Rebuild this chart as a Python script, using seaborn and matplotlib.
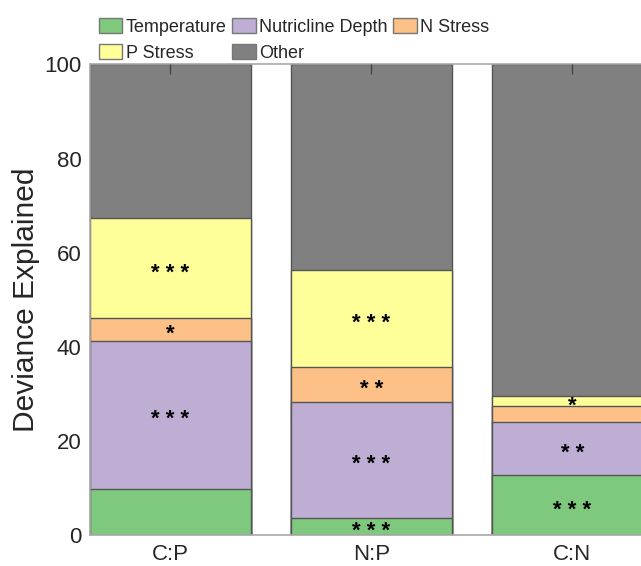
import numpy as np
import pandas as pd
import seaborn as sns
from matplotlib import pyplot as plt
from matplotlib import transforms
from matplotlib.patches import Patch

ratios = ["C:P", "N:P", "C:N"]
components = ["Temperature", "Nutricline Depth", "N Stress", "P Stress", "Other"]
temperature = [9.9, 3.8, 12.8]
nutricline = [31.4, 24.5, 11.3]
n_stress = [4.9, 7.4, 3.3]
p_stress = [21.1, 20.7, 2.1]
other = [32.7, 43.6, 70.5]
stars = [
    ["", "* * *", "* * *"],     # Temperature
    ["* * *", "* * *", "* *"],  # Nutricline Depth
    ["*", "* *", ""],           # N Stress
    ["* * *", "* * *", "*"],    # P Stress
    ["", "", ""],               # Other
]
colours = ["#7fc97f", "#beaed4", "#fdc086", "#ffff99", "#808080"]

sns.set_theme(style="white")
plt.rcParams["font.family"] = ["Liberation Sans", "DejaVu Sans"]

fig = plt.figure(figsize=(6.41, 5.66), dpi=100)
ax = fig.add_axes([0.1404, 0.0539, 0.878, 0.8325])

values = np.array([temperature, nutricline, n_stress, p_stress, other])
cum = np.cumsum(values, axis=0)
table = pd.DataFrame(cum.T, columns=components)
table["Ratio"] = ratios

# stacked bars: draw cumulative totals from the top down
for i in range(len(components) - 1, -1, -1):
    sns.barplot(data=table, x="Ratio", y=components[i], color=colours[i],
                saturation=1, width=0.8, edgecolor="#555555", linewidth=1.0, ax=ax)

star_trans = transforms.offset_copy(ax.transData, fig=fig, x=0, y=-7.5, units="points")
for i in range(len(components)):
    for j in range(len(ratios)):
        if stars[i][j]:
            mid = cum[i][j] - values[i][j] / 2
            ax.text(j, mid, stars[i][j], ha="center", va="baseline", fontsize=16,
                    fontweight="bold", color="#000000", transform=star_trans)

ax.set_xlim(-0.4, 2.4)
ax.set_ylim(0, 100)
ax.set_yticks([0, 20, 40, 60, 80, 100])
ax.set_xlabel("")
ax.set_ylabel("Deviance Explained", fontsize=21.5, color="#262626", labelpad=3)
ax.tick_params(axis="y", length=0, labelsize=16, labelcolor="#262626", pad=6)
ax.tick_params(axis="x", direction="in", length=7, width=1, color="#444444",
               top=True, labelsize=16, labelcolor="#262626", pad=6)
ax.set_axisbelow(False)
for s in ax.spines.values():
    s.set_color("#a8a8a8")
    s.set_linewidth(1.2)

handles = [Patch(facecolor=c, edgecolor="#777777", linewidth=1.0) for c in colours]
order = [0, 3, 1, 4, 2]
fig.legend([handles[k] for k in order], [components[k] for k in order],
           loc="upper left", bbox_to_anchor=(99 / 641, 1 - 18 / 566), ncol=3,
           frameon=False, fontsize=13, borderpad=0, borderaxespad=0,
           handlelength=1.3, handleheight=0.9, handletextpad=0.2,
           columnspacing=0.3, labelspacing=0.45)

fig.savefig("out.png", dpi=100)
